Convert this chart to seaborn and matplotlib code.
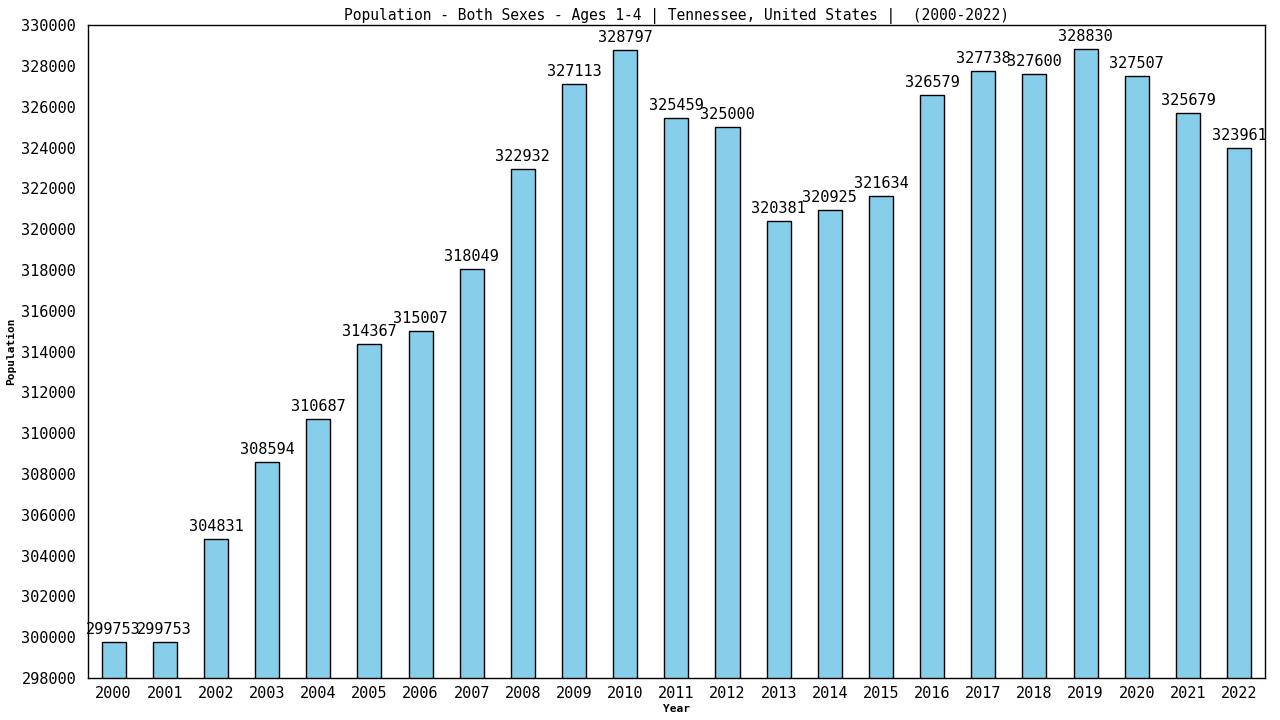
import matplotlib
matplotlib.use("Agg")
import matplotlib.pyplot as plt
import seaborn as sns
import pandas as pd

years = [str(y) for y in range(2000, 2023)]
population = [299753, 299753, 304831, 308594, 310687, 314367, 315007, 318049,
              322932, 327113, 328797, 325459, 325000, 320381, 320925, 321634,
              326579, 327738, 327600, 328830, 327507, 325679, 323961]

df = pd.DataFrame({"Year": years, "Population": population})

sns.set_style("white")
plt.rcParams['font.family'] = ['DejaVu Sans Mono', 'DejaVu Sans']
plt.rcParams['text.color'] = 'black'
plt.rcParams['axes.labelcolor'] = 'black'
plt.rcParams['xtick.color'] = 'black'
plt.rcParams['ytick.color'] = 'black'

fig = plt.figure(figsize=(12.8, 7.2), dpi=100)
ax = fig.add_axes([0.06875, 0.0583, 0.988 - 0.06875, 0.965 - 0.0583])

sns.barplot(data=df, x="Year", y="Population", color="#87CEEB",
            edgecolor="black", linewidth=1.0, width=0.47, saturation=1, ax=ax)

ax.set_ylim(298000, 330000)
ax.set_xlim(-0.5, len(years) - 0.5)
ax.set_yticks(range(298000, 330001, 2000))
ax.set_yticklabels([str(v) for v in range(298000, 330001, 2000)])

for i, v in enumerate(population):
    ax.text(i, v + 250, str(v), ha="center", va="bottom", fontsize=11, color="black")

ax.set_title("Population - Both Sexes - Ages 1-4 | Tennessee, United States |  (2000-2022)",
             fontsize=10.5, pad=4, color="black")
ax.set_xlabel("Year", fontsize=8, fontweight="bold", labelpad=2)
ax.set_ylabel("Population", fontsize=8, fontweight="bold")
ax.tick_params(axis="both", labelsize=11, length=4, direction="out",
               color="black", labelcolor="black")
ax.tick_params(axis="x", pad=2)
ax.tick_params(axis="y", length=5)
for s in ax.spines.values():
    s.set_color("black")
    s.set_linewidth(1.0)

fig.savefig("out.png", dpi=100)
